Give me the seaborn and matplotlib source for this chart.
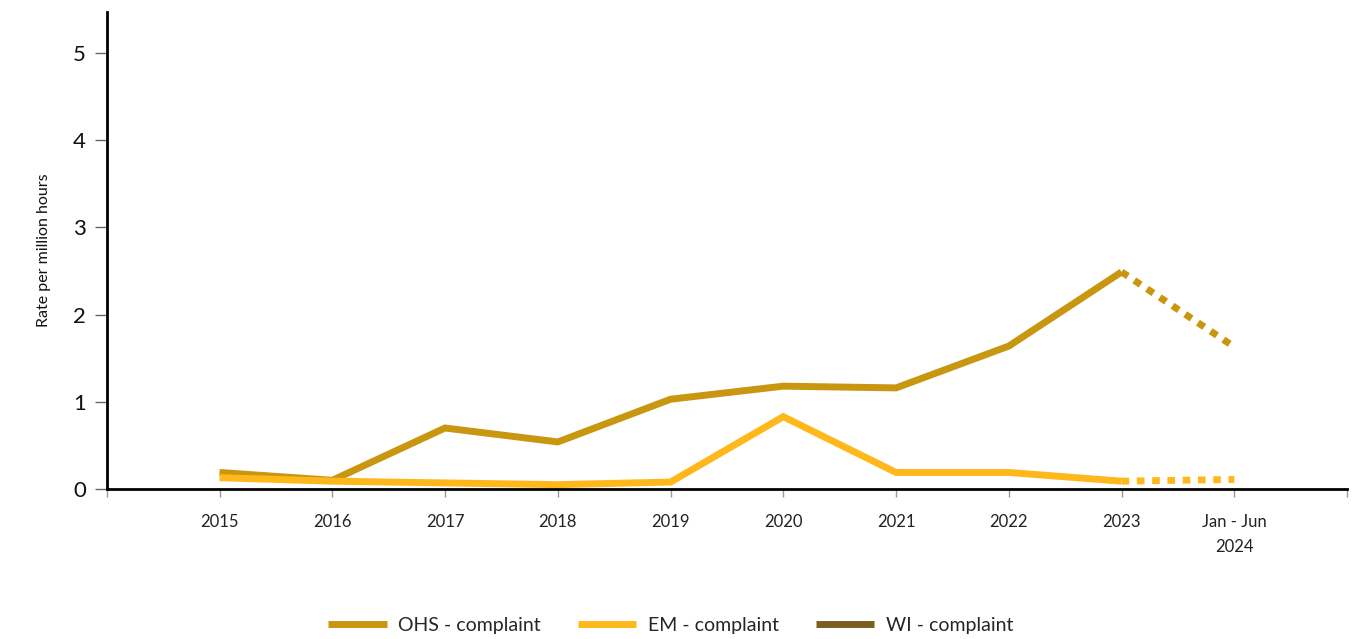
import numpy as np
import pandas as pd
import seaborn as sns
import matplotlib.pyplot as plt
from matplotlib.lines import Line2D

# Data
periods = ["2015", "2016", "2017", "2018", "2019", "2020", "2021", "2022", "2023", "Jan - Jun\n2024"]
ohs_complaint = [0.19, 0.10, 0.70, 0.54, 1.03, 1.18, 1.16, 1.64, 2.49, 1.63]
em_complaint = [0.13, 0.09, 0.07, 0.05, 0.08, 0.83, 0.19, 0.19, 0.09, 0.11]
wi_complaint = [np.nan] * len(periods)

series_names = ["OHS - complaint", "EM - complaint", "WI - complaint"]
series_colors = ["#c8960f", "#ffb81c", "#7a6020"]

sns.set_theme(style="white")
plt.rcParams['font.family'] = ['Lato', 'DejaVu Sans']

fig = plt.figure(figsize=(13.69, 6.39), dpi=100)
ax = fig.add_axes([0.078, 0.2347, 0.906, 0.7463])

x = np.arange(len(periods))
lw = 5
for vals, col in zip([ohs_complaint, em_complaint, wi_complaint], series_colors):
    vals = np.array(vals, dtype=float)
    # full-year periods: solid line
    sns.lineplot(x=x[:-1], y=vals[:-1], color=col, linewidth=lw, ax=ax,
                 solid_joinstyle='miter', solid_capstyle='butt')
    # partial year: dotted line
    sns.lineplot(x=x[-2:], y=vals[-2:], color=col, linewidth=lw, ax=ax,
                 linestyle=(0, (1.1, 1.1)), dash_capstyle='butt')

ax.set_xlim(-1, len(periods))
ax.set_ylim(0, 5.47)
ax.set_xticks(np.arange(-1, len(periods) + 1))
labels = ax.set_xticklabels([""] + periods + [""], fontsize=12, color="#222222")
for t in labels:
    t.set_linespacing(1.7)
ax.set_yticks(range(0, 6))
ax.set_yticklabels([str(v) for v in range(0, 6)], fontsize=16, color="#111111")
ax.tick_params(axis='x', bottom=True, length=6, width=1, color="#999999", pad=12)
ax.tick_params(axis='y', left=True, length=9, width=1, color="#666666", pad=6)
ax.set_ylabel("Rate per million hours", fontsize=11.5, color="#111111", labelpad=16)
ax.set_xlabel("")

sns.despine(ax=ax)
for side in ["left", "bottom"]:
    ax.spines[side].set_color("black")
    ax.spines[side].set_linewidth(2)

handles = [Line2D([0], [0], color=c, linewidth=5, solid_capstyle='butt') for c in series_colors]
fig.legend(handles, series_names, loc="lower center", bbox_to_anchor=(0.49, -0.02),
           ncol=3, frameon=False, fontsize=14, handlelength=3.0, columnspacing=1.9,
           handletextpad=0.6)

fig.savefig("out.png", dpi=100)
